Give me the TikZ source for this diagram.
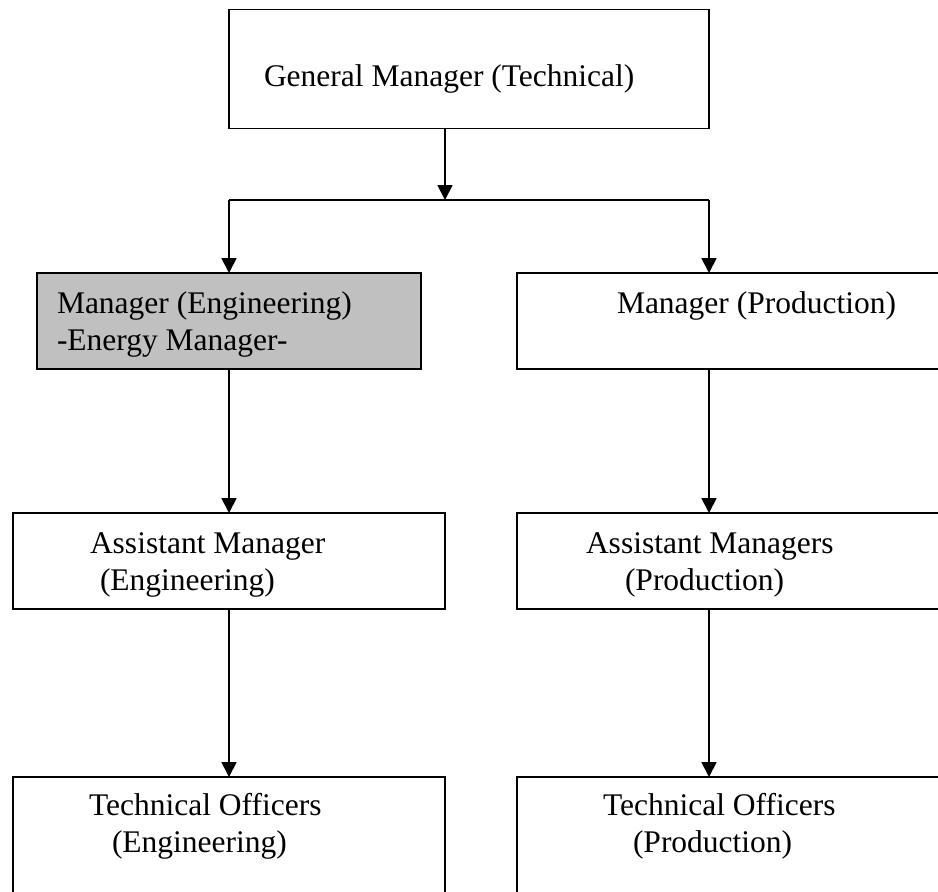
\documentclass[tikz,border=0pt]{standalone}
\usepackage{fontspec}
\setmainfont{Liberation Serif}
\usetikzlibrary{arrows.meta}
\definecolor{boxgray}{RGB}{192,192,192}
\begin{document}
\begin{tikzpicture}[x=1pt,y=-1pt,
  box/.style={draw, line width=1.8pt, inner sep=0pt, outer sep=0pt, rectangle},
  lbl/.style={anchor=base west, inner sep=0pt, outer sep=0pt, font=\fontsize{31.5}{37}\selectfont},
  conn/.style={line width=1.8pt},
  arr/.style={conn, -{Triangle[length=15pt,width=15pt]}}]
\useasboundingbox (0,0) rectangle (938,892);
\clip (0,0) rectangle (938,892);
% boxes
\node[box, minimum width=480pt, minimum height=119pt] (gm) at (469,69) {};
\node[box, fill=boxgray, minimum width=384pt, minimum height=96pt] (me) at (229,321) {};
\node[box, minimum width=433pt, minimum height=96pt] (mp) at (733.5,321) {};
\node[box, minimum width=432pt, minimum height=96pt] (ae) at (229,561) {};
\node[box, minimum width=433pt, minimum height=96pt] (ap) at (733.5,561) {};
\node[box, minimum width=432pt, minimum height=173pt] (te) at (229,863.5) {};
\node[box, minimum width=433pt, minimum height=173pt] (tp) at (733.5,863.5) {};
% texts
\node[lbl] (tgm) at (264,86) {General Manager (Technical)};
\node[lbl] (tme1) at (57,313) {Manager (Engineering)};
\node[lbl] (tme2) at (57,350) {-Energy Manager-};
\node[lbl] (tmp) at (617,313) {Manager (Production)};
\node[lbl] (tae1) at (90,553) {Assistant Manager};
\node[lbl] (tae2) at (100,590) {(Engineering)};
\node[lbl] (tap1) at (586,553) {Assistant Managers};
\node[lbl] (tap2) at (625,590) {(Production)};
\node[lbl] (tte1) at (89,815) {Technical Officers};
\node[lbl] (tte2) at (112,852) {(Engineering)};
\node[lbl] (ttp1) at (603,815) {Technical Officers};
\node[lbl] (ttp2) at (633,852) {(Production)};
% connectors
\coordinate (j) at (445,200);
\coordinate (jl) at (229,200);
\coordinate (jr) at (709,200);
\draw[arr] (gm.south -| j) -- (j);
\draw[conn] (jl) -- (jr);
\draw[arr] (jl) -- (me.north);
\draw[arr] (jr) -- (mp.north -| jr);
\draw[arr] (me.south) -- (ae.north);
\draw[arr] (mp.south -| jr) -- (ap.north -| jr);
\draw[arr] (ae.south) -- (te.north);
\draw[arr] (ap.south -| jr) -- (tp.north -| jr);
\end{tikzpicture}
\end{document}
